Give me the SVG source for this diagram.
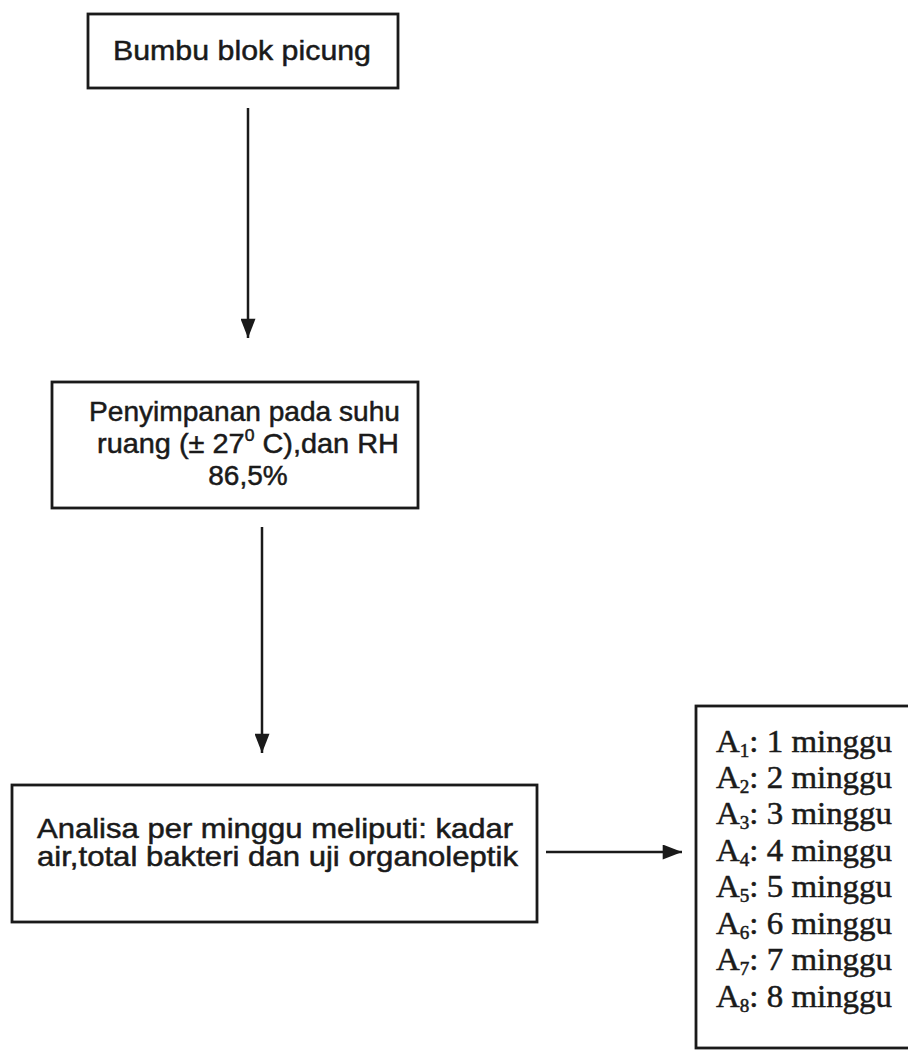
<svg xmlns="http://www.w3.org/2000/svg" width="908" height="1051" viewBox="0 0 908 1051">
<style>
.box{fill:none;stroke:#1a1a1a;stroke-width:2.8}
.sans{font-family:"Liberation Sans",Arial,sans-serif;font-size:28px;fill:#1a1a1a;stroke:#1a1a1a;stroke-width:0.5}
.serif{font-family:"Liberation Serif","Times New Roman",serif;font-size:31px;fill:#1a1a1a;stroke:#1a1a1a;stroke-width:0.5}
.sub{font-size:18px}
.sup{font-size:17px}
.con{stroke:#1a1a1a;stroke-width:2.5;fill:none}
</style>
<defs>
<marker id="ahv" markerWidth="20" markerHeight="15" refX="18" refY="7" orient="auto" markerUnits="userSpaceOnUse" viewBox="0 0 18 14">
<path d="M0,0 L18,7 L0,14 Z" fill="#1a1a1a"/>
</marker>
</defs>
<rect width="908" height="1051" fill="#ffffff"/>
<g id="node1">
<rect class="box" x="88" y="14" width="310" height="74"/>
<text class="sans" x="113" y="60" textLength="258" lengthAdjust="spacingAndGlyphs">Bumbu blok picung</text>
</g>
<g id="node2">
<rect class="box" x="52" y="382" width="366" height="126"/>
<text class="sans" x="89" y="421" textLength="311" lengthAdjust="spacingAndGlyphs">Penyimpanan pada suhu</text>
<text class="sans" x="97" y="453" textLength="302" lengthAdjust="spacingAndGlyphs">ruang (± 27<tspan class="sup" dy="-12">0</tspan><tspan dy="12"> C),dan RH</tspan></text>
<text class="sans" x="248" y="485" text-anchor="middle">86,5%</text>
</g>
<g id="node3">
<rect class="box" x="12" y="785" width="525" height="137"/>
<text class="sans" x="37" y="838" textLength="476" lengthAdjust="spacingAndGlyphs">Analisa per minggu meliputi: kadar</text>
<text class="sans" x="37" y="866" textLength="481" lengthAdjust="spacingAndGlyphs">air,total bakteri dan uji organoleptik</text>
</g>
<g id="node4">
<rect class="box" x="696" y="706" width="230" height="342"/>
<text class="serif" x="716" y="752" textLength="176" lengthAdjust="spacingAndGlyphs">A<tspan class="sub" dy="5">1</tspan><tspan dy="-5">: 1 minggu</tspan></text>
<text class="serif" x="716" y="788" textLength="176" lengthAdjust="spacingAndGlyphs">A<tspan class="sub" dy="5">2</tspan><tspan dy="-5">: 2 minggu</tspan></text>
<text class="serif" x="716" y="824" textLength="176" lengthAdjust="spacingAndGlyphs">A<tspan class="sub" dy="5">3</tspan><tspan dy="-5">: 3 minggu</tspan></text>
<text class="serif" x="716" y="861" textLength="176" lengthAdjust="spacingAndGlyphs">A<tspan class="sub" dy="5">4</tspan><tspan dy="-5">: 4 minggu</tspan></text>
<text class="serif" x="716" y="897" textLength="176" lengthAdjust="spacingAndGlyphs">A<tspan class="sub" dy="5">5</tspan><tspan dy="-5">: 5 minggu</tspan></text>
<text class="serif" x="716" y="934" textLength="176" lengthAdjust="spacingAndGlyphs">A<tspan class="sub" dy="5">6</tspan><tspan dy="-5">: 6 minggu</tspan></text>
<text class="serif" x="716" y="970" textLength="176" lengthAdjust="spacingAndGlyphs">A<tspan class="sub" dy="5">7</tspan><tspan dy="-5">: 7 minggu</tspan></text>
<text class="serif" x="716" y="1007" textLength="176" lengthAdjust="spacingAndGlyphs">A<tspan class="sub" dy="5">8</tspan><tspan dy="-5">: 8 minggu</tspan></text>
</g>
<g id="connectors">
<line class="con" x1="248" y1="108" x2="248" y2="338" marker-end="url(#ahv)"/>
<line class="con" x1="262" y1="527" x2="262" y2="753" marker-end="url(#ahv)"/>
<line class="con" x1="546" y1="852" x2="682" y2="852" marker-end="url(#ahv)"/>
</g>
</svg>
